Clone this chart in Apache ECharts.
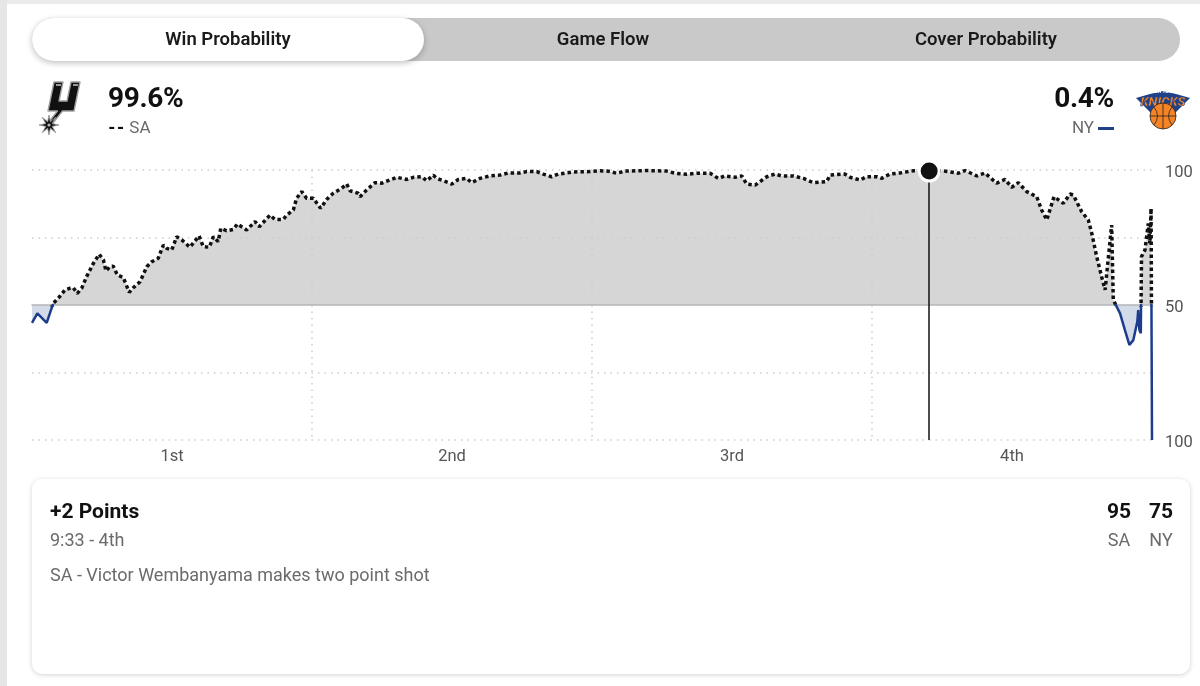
<!DOCTYPE html>
<html>
<head>
<meta charset="utf-8">
<script src="https://cdn.jsdelivr.net/npm/echarts@6.0.0/dist/echarts.min.js"></script>
<style>
  html, body { margin: 0; padding: 0; background: #fff; }
  body { width: 1200px; height: 686px; position: relative; overflow: hidden;
         font-family: Roboto, "Noto Sans", sans-serif; color: #111; }
  .edge-top { position: absolute; left: 0; top: 0; width: 1200px; height: 4px; background: #ebebeb; }
  .edge-left { position: absolute; left: 0; top: 0; width: 7px; height: 686px; background: #e6e6e8; }
  .tabs { position: absolute; left: 32px; top: 18px; width: 1148px; height: 43px;
          border-radius: 22px; background: #c9c9c9; }
  .tab { position: absolute; top: 0; height: 43px; line-height: 43px; text-align: center;
         font-size: 18.5px; font-weight: 600; color: #1a1a1a; }
  .tab.active { left: 0; width: 392px; background: #fff; border-radius: 22px;
                box-shadow: 0 2px 6px rgba(0,0,0,0.25); }
  .team { position: absolute; top: 83px; }
  .pct { font-size: 28px; font-weight: 700; line-height: 30px; letter-spacing: -0.3px; }
  .abbr { font-size: 17px; color: #6b6b6b; line-height: 20px; margin-top: 4px; }
  .abbr b { color: #111; font-weight: 900; letter-spacing: 1px; margin-right: 4px; }
  .dash { display: inline-block; width: 16px; height: 3px; background: #1d428a;
          vertical-align: middle; margin-left: 4px; }
  #chart { position: absolute; left: 0; top: 0; width: 1200px; height: 686px; }
  .card { position: absolute; left: 32px; top: 479px; width: 1158px; height: 195px;
          background: #fff; border-radius: 10px; box-shadow: 0 1px 5px rgba(0,0,0,0.18); }
  .card .title { position: absolute; left: 18px; top: 19px; font-size: 21px; line-height: 26px; font-weight: 700; }
  .card .clock { position: absolute; left: 18px; top: 50px; font-size: 18px; line-height: 22px; color: #6b6b6b; }
  .card .play { position: absolute; left: 18px; top: 85px; font-size: 18px; line-height: 22px; color: #6b6b6b; }
  .card .score { position: absolute; top: 19px; font-size: 21px; line-height: 26px; font-weight: 700; width: 40px; text-align: center; }
  .card .side { position: absolute; top: 50px; font-size: 18px; line-height: 22px; color: #6b6b6b; width: 40px; text-align: center; }
</style>
</head>
<body>
<div class="edge-top"></div>
<div class="edge-left"></div>
<div id="chart"></div>

<div class="tabs">
  <div class="tab active">Win Probability</div>
  <div class="tab" style="left:392px;width:358px;">Game Flow</div>
  <div class="tab" style="left:750px;width:408px;">Cover Probability</div>
</div>

<svg style="position:absolute;left:39px;top:81px" width="42" height="54" viewBox="0 0 42 54">
  <path d="M15 1 L24 1 L20 20 L28 20 L32 1 L41 1 L35 30 L23.5 30 L14 42 L11 39.5 L18.5 30 L9 30 Z"
        fill="#111" stroke="#a0a0a0" stroke-width="1.4" stroke-linejoin="round"/>
  <path d="M17 4 L22 4 M34 4 L39 4" stroke="#c8c8c8" stroke-width="1.5"/>
  <polygon points="20,44 13.23,45.4 16.78,51.78 11.4,47.23 10,54 8.6,47.23 3.22,51.78 6.77,45.4 0,44 6.77,42.6 3.22,36.22 8.6,40.77 10,34 11.4,40.77 16.78,36.22 13.23,42.6"
           fill="#111" stroke="#a0a0a0" stroke-width="0.9" stroke-linejoin="round"/>
  <circle cx="10" cy="44" r="1.6" fill="#bbb"/>
</svg>
<div class="team" style="left:108px;">
  <div class="pct">99.6%</div>
  <div class="abbr"><b>--</b>SA</div>
</div>

<div class="team" style="right:86px;text-align:right;">
  <div class="pct">0.4%</div>
  <div class="abbr">NY<span class="dash"></span></div>
</div>
<svg style="position:absolute;left:1136px;top:84px" width="54" height="48" viewBox="0 0 54 48">
  <polygon points="0,14 14,10 27,7 40,10 54,14 46,22 40,28 27,44 14,28 8,22" fill="#1d428a"/>
  <text x="27" y="9" text-anchor="middle" font-family="Roboto" font-weight="700" font-size="4.5" fill="#fff">NEW YORK</text>
  <text x="27" y="22" text-anchor="middle" font-family="Roboto" font-weight="900" font-style="italic"
        font-size="13" fill="#f58426" stroke="#1d428a" stroke-width="0.5">KNICKS</text>
  <circle cx="27" cy="32" r="13" fill="#f58426" stroke="#222" stroke-width="0.8"/>
  <path d="M14 32 H40 M27 19 V45 M18 23 Q25 32 18 41 M36 23 Q29 32 36 41" stroke="#222" stroke-width="0.8" fill="none"/>
</svg>

<div class="card">
  <div class="title">+2 Points</div>
  <div class="clock">9:33 - 4th</div>
  <div class="play">SA - Victor Wembanyama makes two point shot</div>
  <div class="score" style="left:1067px;">95</div>
  <div class="score" style="left:1109px;">75</div>
  <div class="side" style="left:1067px;">SA</div>
  <div class="side" style="left:1109px;">NY</div>
</div>

<script>
// game clock in elapsed minutes (0-48) and SA win probability (%)
const gameMinute = [
  0.00, 0.23, 0.63, 0.91, 1.13, 1.41, 1.63, 1.77, 1.94, 2.13,
  2.34, 2.63, 2.88, 3.06, 3.17, 3.34, 3.48, 3.66, 3.91, 4.17,
  4.34, 4.63, 4.92, 5.13, 5.41, 5.63, 5.77, 5.99, 6.20, 6.42,
  6.77, 7.16, 7.34, 7.60, 7.77, 7.98, 8.09, 8.34, 8.63, 8.80,
  9.20, 9.56, 9.74, 10.20, 10.41, 10.77, 10.92, 11.20, 11.34, 11.56,
  11.77, 12.06, 12.27, 12.37, 12.63, 12.91, 13.27, 13.49, 13.63, 13.98,
  14.06, 14.34, 14.70, 14.99, 15.34, 15.63, 16.06, 16.34, 16.70, 16.92,
  17.20, 17.34, 17.63, 17.99, 18.27, 18.63, 18.84, 19.20, 19.63, 20.06,
  20.41, 20.91, 21.20, 21.63, 21.91, 22.27, 22.56, 23.20, 23.91, 24.34,
  24.63, 24.77, 25.06, 25.41, 26.34, 27.20, 27.56, 28.06, 28.49, 29.06,
  29.41, 29.70, 30.13, 30.42, 30.63, 30.99, 31.20, 31.49, 31.84, 32.13,
  32.63, 33.06, 33.48, 34.06, 34.20, 34.84, 35.06, 35.49, 35.77, 36.20,
  36.41, 36.77, 37.20, 37.77, 38.45, 39.06, 39.70, 39.99, 40.49, 40.84,
  41.34, 41.70, 41.99, 42.27, 42.63, 43.06, 43.27, 43.49, 43.80, 44.20,
  44.49, 44.63, 44.99, 45.27, 45.42, 45.63, 45.84, 45.99, 46.06, 46.27,
  46.34, 46.63, 46.84, 47.03, 47.20, 47.37, 47.41, 47.46, 47.52, 47.55,
  47.70, 47.84, 47.91, 47.96, 48.00
];
const saWinProb = [
  43.4, 46.9, 43.4, 50.6, 52.5, 55.6, 56.2, 56.4, 54.3, 56.2,
  60.5, 65.4, 68.8, 66.7, 62.6, 64.2, 64.4, 61.1, 60.2, 54.7,
  56.4, 58.6, 64.2, 66.0, 67.3, 72.2, 71.0, 70.4, 75.3, 74.1,
  71.4, 75.6, 71.6, 71.4, 75.3, 73.5, 78.4, 77.5, 78.0, 80.0,
  77.8, 80.9, 79.0, 83.3, 81.7, 81.7, 83.3, 85.2, 89.5, 92.0,
  89.5, 89.5, 87.0, 85.8, 89.1, 91.4, 93.2, 94.8, 92.3, 91.4,
  90.1, 92.6, 95.3, 95.1, 96.3, 97.3, 96.5, 97.3, 97.5, 96.0,
  98.1, 96.9, 96.0, 94.8, 96.5, 96.9, 95.3, 96.9, 97.8, 98.1,
  98.9, 98.9, 99.4, 99.4, 98.5, 97.5, 98.5, 99.3, 99.4, 99.7,
  99.6, 99.4, 98.8, 99.6, 99.8, 99.6, 98.8, 98.4, 98.8, 98.8,
  96.9, 97.8, 97.3, 97.8, 94.8, 94.4, 95.7, 97.5, 98.5, 97.8,
  97.8, 96.9, 95.3, 95.7, 98.1, 98.5, 97.3, 96.3, 97.5, 97.5,
  96.9, 98.5, 98.9, 99.7, 99.6, 99.7, 98.8, 99.8, 97.8, 98.9,
  95.1, 96.5, 93.6, 95.3, 92.0, 90.1, 85.2, 81.5, 90.1, 87.7,
  91.1, 90.7, 84.5, 81.5, 76.5, 67.9, 60.5, 55.6, 56.2, 79.6,
  51.9, 46.9, 40.7, 35.2, 37.0, 43.8, 48.1, 40.7, 39.5, 67.9,
  70.4, 80.2, 72.8, 85.8, 0.0
];
const quarterLabels = ['1st', '2nd', '3rd', '4th'];
const yTickLabels = { 0: '100', 50: '50', 100: '100' };
const hoverMinute = 38.45;   // 9:33 left in the 4th
const hoverProb = 99.6;

const probPoints = gameMinute.map((m, i) => [m, saWinProb[i]]);

const FONT = 'Roboto, "Noto Sans", sans-serif';
const gridDots = { color: '#cdcdcd', width: 1.5, type: [1.5, 5] };
// labels sit a few px below their tick
const yLabelRich = { t: { color: '#555', fontSize: 16.5, fontFamily: FONT, padding: [6, 0, 0, 0] } };

const chart = echarts.init(document.getElementById('chart'));
chart.setOption({
  animation: false,
  grid: [
    { left: 32, right: 48, top: 170, height: 135 },
    { left: 32, right: 48, top: 305, height: 135 }
  ],
  xAxis: [
    { gridIndex: 0, type: 'value', min: 0, max: 48, interval: 12, z: 3,
      axisLine: { show: true, onZero: false, lineStyle: { color: '#b5b5b5', width: 1.5 } },
      axisTick: { show: false }, axisLabel: { show: false },
      splitLine: { show: true, showMinLine: false, showMaxLine: false, lineStyle: gridDots } },
    { gridIndex: 1, type: 'value', min: 0, max: 48, interval: 12, z: 3,
      axisLine: { show: false }, axisTick: { show: false }, axisLabel: { show: false },
      splitLine: { show: true, showMinLine: false, showMaxLine: false, lineStyle: gridDots } },
    { gridIndex: 1, type: 'value', min: 0, max: 48, interval: 6, position: 'bottom', z: 3,
      axisLine: { show: false }, axisTick: { show: false }, splitLine: { show: false },
      axisLabel: {
        color: '#555', fontSize: 16.5, margin: 8, fontFamily: FONT,
        formatter: v => {
          const q = (v - 6) / 12;
          return Number.isInteger(q) && quarterLabels[q] ? quarterLabels[q] : '';
        }
      } }
  ],
  yAxis: [
    { gridIndex: 0, type: 'value', min: 50, max: 100, interval: 25, position: 'right', z: 3,
      axisLine: { show: false }, axisTick: { show: false },
      axisLabel: { margin: 13, rich: yLabelRich,
                   formatter: v => (yTickLabels[v] ? '{t|' + yTickLabels[v] + '}' : '') },
      splitLine: { show: true, showMinLine: false, lineStyle: gridDots } },
    { gridIndex: 1, type: 'value', min: 0, max: 50, interval: 25, position: 'right', z: 3,
      axisLine: { show: false }, axisTick: { show: false },
      axisLabel: { margin: 13, rich: yLabelRich,
                   formatter: v => (v !== 50 && yTickLabels[v] ? '{t|' + yTickLabels[v] + '}' : '') },
      splitLine: { show: true, showMaxLine: false, lineStyle: gridDots } }
  ],
  series: [
    // SA ahead: grey fill above the 50 line
    { type: 'line', xAxisIndex: 0, yAxisIndex: 0, data: probPoints, z: 1, silent: true,
      showSymbol: false, clip: true, lineStyle: { opacity: 0 },
      areaStyle: { color: '#d6d6d6', opacity: 1, origin: 'start' } },
    { type: 'line', xAxisIndex: 0, yAxisIndex: 0, data: probPoints, z: 5, silent: true,
      showSymbol: false, clip: true,
      lineStyle: { color: '#111', width: 3.5, type: [3.5, 3], cap: 'butt' },
      markLine: { silent: true, symbol: ['none', 'none'], label: { show: false },
                  lineStyle: { color: '#111', width: 1.5, type: 'solid' },
                  data: [{ xAxis: hoverMinute }] } },
    // NY ahead: blue fill below the 50 line
    { type: 'line', xAxisIndex: 1, yAxisIndex: 1, data: probPoints, z: 1, silent: true,
      showSymbol: false, clip: true, lineStyle: { opacity: 0 },
      areaStyle: { color: '#d3dae8', opacity: 1, origin: 'end' } },
    { type: 'line', xAxisIndex: 1, yAxisIndex: 1, data: probPoints, z: 5, silent: true,
      showSymbol: false, clip: true,
      lineStyle: { color: '#1d3d8c', width: 2.5 },
      markLine: { silent: true, symbol: ['none', 'none'], label: { show: false },
                  lineStyle: { color: '#111', width: 1.5, type: 'solid' },
                  data: [{ xAxis: hoverMinute }] } },
    { type: 'scatter', xAxisIndex: 0, yAxisIndex: 0, z: 10, silent: true,
      data: [[hoverMinute, hoverProb]], symbolSize: 20,
      itemStyle: { color: '#111', borderColor: '#fff', borderWidth: 3, opacity: 1 } }
  ]
});
</script>
</body>
</html>
